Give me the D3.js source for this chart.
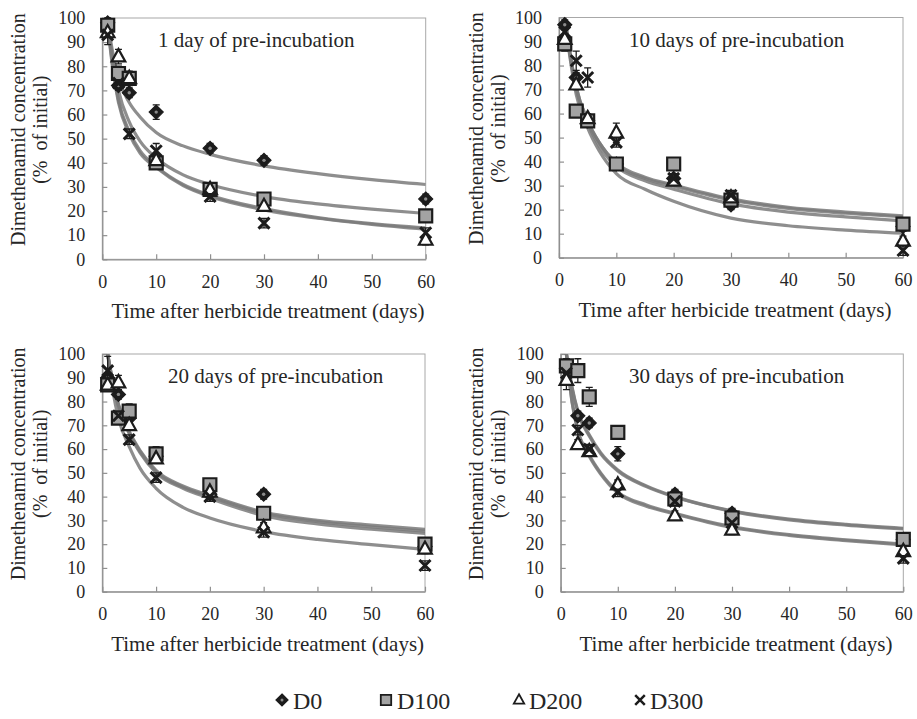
<!DOCTYPE html>
<html><head><meta charset="utf-8">
<script src="https://cdn.jsdelivr.net/npm/d3@7"></script>
<style>
body{margin:0;background:#fff}
svg{display:block}
svg text{font-family:'Liberation Serif','Tinos','DejaVu Serif',serif !important;fill:#262626}
</style>
</head><body>
<svg id="c" width="917" height="719"></svg>
<script>
// ---------------- data ----------------
const seriesNames = ["D0", "D100", "D200", "D300"];
const sampleDays = [1, 3, 5, 10, 20, 30, 60];
const fitDays = [1, 2, 3, 5, 7, 10, 15, 20, 30, 40, 50, 60];
const panelTitles = ["1 day of pre-incubation", "10 days of pre-incubation", "20 days of pre-incubation", "30 days of pre-incubation"];
const xTicks = [0, 10, 20, 30, 40, 50, 60];
const yTicks = [0, 10, 20, 30, 40, 50, 60, 70, 80, 90, 100];
const xTitle = "Time after herbicide treatment (days)";
const yTitle1 = "Dimethenamid concentration";
const yTitle2 = "(%  of initial)";

// 1 day of pre-incubation
const day1_D0   = [98, 72, 69, 61, 46, 41, 25];
const day1_D100 = [97, 77, 75, 40, 29, 25, 18];
const day1_D200 = [94, 84, 75, 41, 29, 22, 8];
const day1_D300 = [93, 73, 52, 45, 26, 15, 11];
const day1_err_D0   = [2, 2, 2, 3, 2, 2, 2];
const day1_err_D100 = [2, 3, 3, 2, 2, 2, 2];
const day1_err_D200 = [2, 3, 2, 2, 2, 2, 2];
const day1_err_D300 = [4, 2, 2, 3, 2, 2, 2];
const day1_fit_D0   = [98, 85, 75, 65, 59, 52.5, 47, 43.5, 38.7, 35.5, 33, 31];
const day1_fit_D100 = [98, 82, 70, 57, 49, 42, 35, 31, 26, 23, 20.8, 19];
const day1_fit_D200 = [98, 79, 66, 53, 45, 38.5, 31, 26.5, 21, 17.3, 14.8, 13];
const day1_fit_D300 = [97, 78, 65, 52, 44, 38, 30.5, 26, 20.5, 17, 14.5, 12.5];

// 10 days of pre-incubation
const day10_D0   = [97, 75, 57, 39, 33, 22, 13];
const day10_D100 = [89, 61, 57, 39, 39, 24, 14];
const day10_D200 = [91, 72, 58, 52, 32, 25, 7];
const day10_D300 = [94, 82, 75, 48, 33, 26, 3];
const day10_err_D0   = [2, 2, 2, 2, 2, 2, 2];
const day10_err_D100 = [3, 2, 2, 2, 2, 2, 2];
const day10_err_D200 = [2, 2, 2, 4, 2, 2, 2];
const day10_err_D300 = [2, 4, 4, 2, 2, 2, 2];
const day10_fit_D0   = [100, 84, 71, 57, 48, 39.5, 33.5, 30.3, 24.5, 21, 19, 17.4];
const day10_fit_D100 = [100, 84, 71, 57, 48, 39, 33, 29.8, 24, 20.5, 18.5, 17];
const day10_fit_D200 = [100, 83, 70, 56, 46.5, 38, 32, 28.5, 22.4, 19, 17, 15.3];
const day10_fit_D300 = [100, 82, 68, 54, 44.5, 35, 28.5, 23.5, 16.5, 13.3, 11.5, 10.2];

// 20 days of pre-incubation
const day20_D0   = [90, 83, 73, 57, 41, 41, 19];
const day20_D100 = [87, 73, 76, 58, 45, 33, 20];
const day20_D200 = [87, 88, 70, 56, 42, 27, 18];
const day20_D300 = [93, 74, 64, 48, 40, 25, 11];
const day20_err_D0   = [2, 2, 2, 2, 2, 2, 2];
const day20_err_D100 = [2, 2, 3, 3, 2, 2, 2];
const day20_err_D200 = [2, 3, 2, 2, 2, 2, 2];
const day20_err_D300 = [6, 2, 2, 2, 2, 2, 2];
const day20_fit_D0   = [100, 88, 79, 67.5, 59.5, 51, 44.5, 40.5, 33.5, 30, 28, 26.2];
const day20_fit_D100 = [100, 87.5, 78.5, 67, 59, 50.5, 44, 40, 33, 29.5, 27.3, 25.5];
const day20_fit_D200 = [100, 87, 78, 66.5, 58.5, 50, 43.5, 39.3, 32, 28.5, 26.3, 24.5];
const day20_fit_D300 = [100, 84, 73, 61, 52, 43.5, 35.5, 31, 25.3, 22, 19.8, 17.8];

// 30 days of pre-incubation
const day30_D0   = [94, 74, 71, 58, 41, 33, 22];
const day30_D100 = [95, 93, 82, 67, 39, 31, 22];
const day30_D200 = [89, 62, 59, 45, 32, 26, 17];
const day30_D300 = [92, 68, 60, 42, 38, 29, 14];
const day30_err_D0   = [2, 2, 2, 3, 2, 2, 2];
const day30_err_D100 = [3, 5, 4, 2, 2, 2, 2];
const day30_err_D200 = [4, 2, 2, 2, 2, 2, 2];
const day30_err_D300 = [2, 2, 2, 2, 2, 2, 2];
const day30_fit_D0   = [100, 86, 76, 66, 58.5, 51.2, 44.5, 40, 34, 30.5, 28.3, 26.7];
const day30_fit_D100 = [100, 85.5, 75.5, 65.5, 58, 50.8, 44.2, 39.8, 33.8, 30.2, 28, 26.4];
const day30_fit_D200 = [100, 80, 68, 57.5, 50, 42, 36.5, 33, 27.4, 24, 21.8, 20];
const day30_fit_D300 = [100, 79.5, 67.5, 57, 49.5, 41.5, 36, 32.7, 27, 23.7, 21.5, 19.7];

const panelData = [
  {title: panelTitles[0], pts: [day1_D0, day1_D100, day1_D200, day1_D300],
   err: [day1_err_D0, day1_err_D100, day1_err_D200, day1_err_D300],
   fit: [day1_fit_D0, day1_fit_D100, day1_fit_D200, day1_fit_D300]},
  {title: panelTitles[1], pts: [day10_D0, day10_D100, day10_D200, day10_D300],
   err: [day10_err_D0, day10_err_D100, day10_err_D200, day10_err_D300],
   fit: [day10_fit_D0, day10_fit_D100, day10_fit_D200, day10_fit_D300]},
  {title: panelTitles[2], pts: [day20_D0, day20_D100, day20_D200, day20_D300],
   err: [day20_err_D0, day20_err_D100, day20_err_D200, day20_err_D300],
   fit: [day20_fit_D0, day20_fit_D100, day20_fit_D200, day20_fit_D300]},
  {title: panelTitles[3], pts: [day30_D0, day30_D100, day30_D200, day30_D300],
   err: [day30_err_D0, day30_err_D100, day30_err_D200, day30_err_D300],
   fit: [day30_fit_D0, day30_fit_D100, day30_fit_D200, day30_fit_D300]}
];

// ---------------- layout ----------------
const FONT = "'Liberation Serif','Tinos','DejaVu Serif',serif";
const frames = [
  {l: 102.3, r: 425.7, t: 18,   b: 259.3, tx: 158, ty: 47,  yt: 18},
  {l: 559,   r: 903,   t: 17.5, b: 257.7, tx: 629, ty: 47,  yt: 476},
  {l: 102.3, r: 425,   t: 354,  b: 591.7, tx: 168, ty: 383, yt: 18},
  {l: 560.7, r: 903.3, t: 354,  b: 591.7, tx: 629, ty: 383, yt: 476}
];

const svg = d3.select("#c");
const AX = "#8f8f8f";

function markerPath(name, s) {
  if (name === "D0") return `M0,${-s}L${s},0L0,${s}L${-s},0Z`;
  if (name === "D100") return `M${-s},${-s}H${s}V${s}H${-s}Z`;
  if (name === "D200") return `M0,${-s*1.1}L${s},${s*0.7}L${-s},${s*0.7}Z`;
  return `M${-s},${-s}L${s},${s}M${s},${-s}L${-s},${s}`;
}
function styleMarker(sel, name) {
  if (name === "D0") sel.attr("fill", "#1c1c1c").attr("stroke", "#1c1c1c").attr("stroke-width", 1.2);
  else if (name === "D100") sel.attr("fill", "#a3a3a3").attr("stroke", "#1c1c1c").attr("stroke-width", 2.2);
  else if (name === "D200") sel.attr("fill", "#fff").attr("stroke", "#1c1c1c").attr("stroke-width", 2.2);
  else sel.attr("fill", "none").attr("stroke", "#1c1c1c").attr("stroke-width", 3);
}
const markerSize = {D0: 7, D100: 6.5, D200: 6.8, D300: 5.5};

panelData.forEach((pd, pi) => {
  const f = frames[pi];
  const x = d3.scaleLinear().domain([0, 60]).range([f.l, f.r]);
  const y = d3.scaleLinear().domain([0, 100]).range([f.b, f.t]);
  const g = svg.append("g").attr("font-family", FONT);

  // frame
  g.append("rect").attr("x", f.l).attr("y", f.t).attr("width", f.r - f.l).attr("height", f.b - f.t)
    .attr("fill", "none").attr("stroke", "#a8a8a8").attr("stroke-width", 1);

  // axes
  const xa = g.append("g").attr("transform", `translate(0,${f.b})`)
    .call(d3.axisBottom(x).tickValues(xTicks).tickSizeInner(-5).tickSizeOuter(0).tickPadding(16));
  const ya = g.append("g").attr("transform", `translate(${f.l},0)`)
    .call(d3.axisLeft(y).tickValues(yTicks).tickSizeInner(-5).tickSizeOuter(0).tickPadding(17));
  [xa, ya].forEach(a => {
    a.attr("font-family", FONT).attr("font-size", 18);
    a.select(".domain").attr("stroke", AX).attr("stroke-width", 1.3);
    a.selectAll(".tick line").attr("stroke", AX).attr("stroke-width", 1.2);
    a.selectAll(".tick text").attr("font-size", 18).attr("fill", "#262626").style("font-family", FONT);
  });

  // axis titles
  g.append("text").attr("x", (f.l + f.r) / 2 + 4).attr("y", f.b + 59).attr("text-anchor", "middle")
    .attr("font-size", 21).style("font-family", FONT).text(xTitle);
  const yc = (f.t + f.b) / 2 - 9;
  g.append("text").attr("transform", `translate(${f.yt},${yc}) rotate(-90)`)
    .attr("text-anchor", "middle").attr("dominant-baseline", "central").attr("font-size", 20)
    .style("font-family", FONT).text(yTitle1);
  g.append("text").attr("transform", `translate(${f.yt + 22},${yc}) rotate(-90)`)
    .attr("text-anchor", "middle").attr("dominant-baseline", "central").attr("font-size", 20)
    .style("font-family", FONT).style("white-space", "pre").text(yTitle2);

  // panel title
  g.append("text").attr("x", f.tx).attr("y", f.ty).attr("font-size", 21).style("font-family", FONT).text(pd.title);

  // fitted curves
  const clipId = "clip" + pi;
  svg.append("clipPath").attr("id", clipId).append("rect")
    .attr("x", f.l).attr("y", f.t).attr("width", f.r - f.l).attr("height", f.b - f.t);
  const line = d3.line().x(d => x(d[0])).y(d => y(d[1])).curve(d3.curveMonotoneX);
  const cg = g.append("g").attr("clip-path", `url(#${clipId})`);
  pd.fit.forEach(vals => {
    const pts = fitDays.map((d, i) => [d, vals[i]]);
    cg.append("path").attr("d", line(pts)).attr("fill", "none")
      .attr("stroke", "#7a7a7a").attr("stroke-opacity", 0.85).attr("stroke-width", 3.2);
  });

  // error bars
  const eg = g.append("g");
  pd.pts.forEach((vals, si) => {
    vals.forEach((v, i) => {
      const e = pd.err[si][i];
      const cx = x(sampleDays[i]);
      const y1 = y(Math.min(100, v + e)), y0 = y(v - e);
      eg.append("path").attr("d", `M${cx},${y1}V${y0}M${cx - 3.5},${y1}H${cx + 3.5}M${cx - 3.5},${y0}H${cx + 3.5}`)
        .attr("stroke", "#1c1c1c").attr("stroke-width", 1.3).attr("fill", "none");
    });
  });

  // markers
  pd.pts.forEach((vals, si) => {
    const name = seriesNames[si];
    const mg = g.append("g");
    vals.forEach((v, i) => {
      const p = mg.append("path").attr("transform", `translate(${x(sampleDays[i])},${y(v)})`)
        .attr("d", markerPath(name, markerSize[name]));
      styleMarker(p, name);
      if (name === "D0") mg.append("circle").attr("cx", x(sampleDays[i])).attr("cy", y(v)).attr("r", 1.7).attr("fill", "#8a8a8a");
    });
  });
});

// ---------------- legend ----------------
const legendPos = [{mx: 282, tx: 293}, {mx: 386, tx: 397}, {mx: 519, tx: 529}, {mx: 640, tx: 650}];
const legendY = 700;
seriesNames.forEach((name, i) => {
  const lp = legendPos[i];
  const p = svg.append("path").attr("transform", `translate(${lp.mx},${legendY})`)
    .attr("d", markerPath(name, name === "D0" ? 6 : (name === "D300" ? 4.8 : 5.2)));
  styleMarker(p, name);
  if (name === "D300") p.attr("stroke-width", 2.5);
  if (name === "D100") p.attr("stroke-width", 1.8);
  if (name === "D200") p.attr("stroke-width", 1.8);
  if (name === "D0") svg.append("circle").attr("cx", lp.mx).attr("cy", legendY).attr("r", 1.5).attr("fill", "#8a8a8a");
  svg.append("text").attr("x", lp.tx).attr("y", legendY + 8.5).attr("font-size", 24)
    .style("font-family", FONT).text(name);
});
</script>
</body></html>
